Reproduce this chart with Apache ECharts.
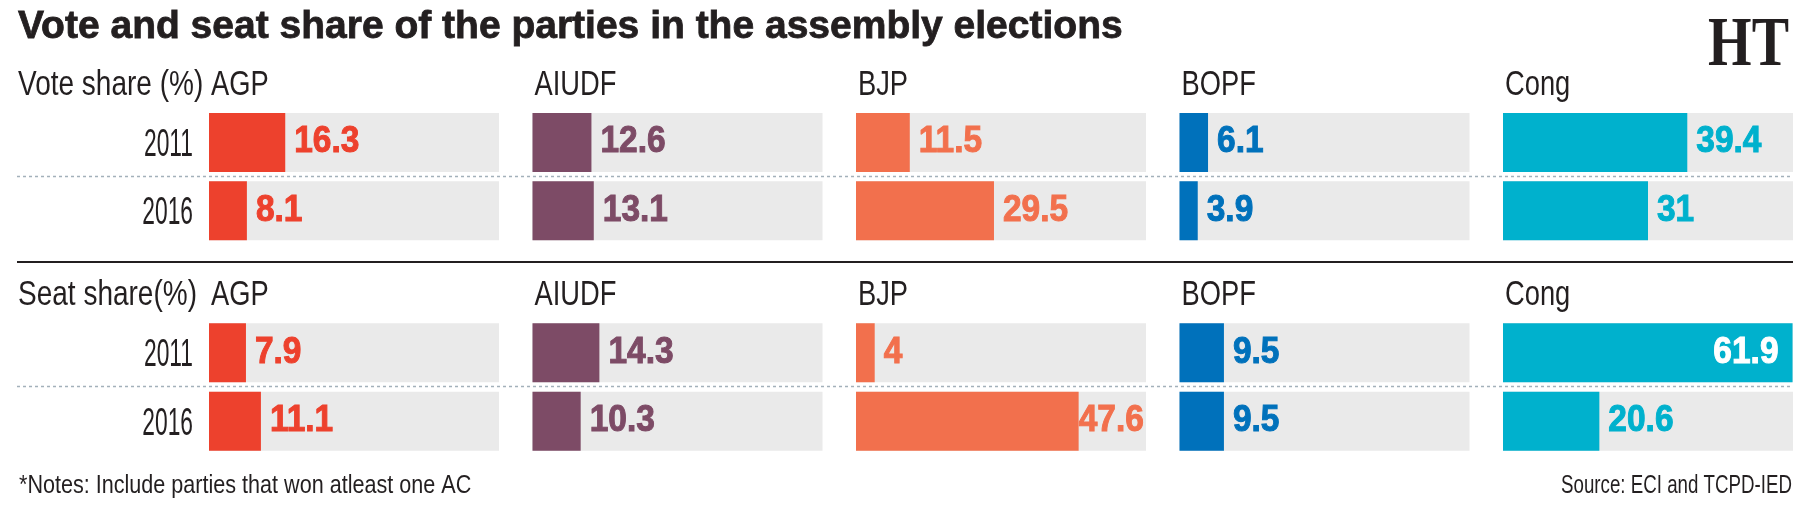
<!DOCTYPE html>
<html>
<head>
<meta charset="utf-8">
<script src="https://cdn.jsdelivr.net/npm/echarts@6/dist/echarts.min.js"></script>
<style>
  html, body { margin: 0; padding: 0; background: #fff; }
  #main { width: 1805px; height: 514px; }
</style>
</head>
<body>
<div id="main"></div>
<script>
// data
const parties = ["AGP", "AIUDF", "BJP", "BOPF", "Cong"];
const years = ["2011", "2016"];
const vote2011 = [16.3, 12.6, 11.5, 6.1, 39.4];
const vote2016 = [8.1, 13.1, 29.5, 3.9, 31];
const seat2011 = [7.9, 14.3, 4, 9.5, 61.9];
const seat2016 = [11.1, 10.3, 47.6, 9.5, 20.6];

const partyColors = ["#ED412D", "#7D4B66", "#F2704D", "#0071BB", "#00B1CD"];
const sans = "'Liberation Sans', Arial, sans-serif";
const ink = "#231F20";

const panelLeft = 209, panelStep = 323.5, panelWidth = 290;
const sections = [
  { top: 108.3, a: vote2011, b: vote2016 },
  { top: 318.7, a: seat2011, b: seat2016 }
];

var grid = [], xAxis = [], yAxis = [], series = [];
sections.forEach(function(sec, s) {
  parties.forEach(function(p, i) {
    var idx = s * parties.length + i;
    grid.push({
      left: panelLeft + i * panelStep,
      top: sec.top,
      width: panelWidth,
      height: 136.6
    });
    xAxis.push({ gridIndex: idx, type: "value", min: 0, max: 62, show: false });
    yAxis.push({
      gridIndex: idx,
      type: "category",
      inverse: true,
      data: years,
      axisLine: { show: false },
      axisTick: { show: false },
      splitLine: { show: false },
      axisLabel: { show: false }
    });
    series.push({
      name: p,
      type: "bar",
      xAxisIndex: idx,
      yAxisIndex: idx,
      data: [sec.a[i], sec.b[i]],
      barWidth: 59,
      itemStyle: { color: partyColors[i] },
      showBackground: true,
      backgroundStyle: { color: "#EAEAEA" },
      silent: true
    });
  });
});

// condensed looking text: the narrow face is missing, so squeeze a normal one
function txt(x, y, text, size, opts) {
  opts = opts || {};
  var fill = opts.fill || ink;
  return {
    type: "text",
    silent: true,
    z: 10,
    x: x,
    y: y,
    scaleX: opts.sx || 1,
    style: {
      x: 0,
      y: 0,
      text: text,
      fill: fill,
      stroke: opts.heavy ? fill : null,
      lineWidth: opts.heavy || 0,
      font: (opts.weight || "normal") + " " + size + "px " + (opts.family || sans),
      textAlign: opts.align || "left",
      textVerticalAlign: "middle"
    }
  };
}

var myChart = echarts.init(document.getElementById("main"));
myChart.setOption({
  animation: false,
  grid: grid,
  xAxis: xAxis,
  yAxis: yAxis,
  series: series
});

var graphic = [
  txt(18, 27, "Vote and seat share of the parties in the assembly elections", 39,
    { weight: "bold", heavy: 0.8 }),
  txt(1789, 47, "HT", 70, { weight: "bold", family: "'Liberation Serif', serif", align: "right", sx: 0.8 }),
  txt(18, 85, "Vote share (%)", 35, { sx: 0.8 }),
  txt(18, 295, "Seat share(%)", 35, { sx: 0.8 }),
  txt(19, 486, "*Notes: Include parties that won atleast one AC", 26, { sx: 0.83 }),
  txt(1792, 486, "Source: ECI and TCPD-IED", 26, { align: "right", sx: 0.72 }),
  {
    type: "line", silent: true, z: 5,
    shape: { x1: 17, y1: 262, x2: 1793, y2: 262 },
    style: { stroke: "#231F20", lineWidth: 2 }
  },
  {
    type: "line", silent: true, z: 5,
    shape: { x1: 17, y1: 176.5, x2: 1793, y2: 176.5 },
    style: { stroke: "#A3B1BA", lineWidth: 1.5, lineDash: [3, 3] }
  },
  {
    type: "line", silent: true, z: 5,
    shape: { x1: 17, y1: 386.5, x2: 1793, y2: 386.5 },
    style: { stroke: "#A3B1BA", lineWidth: 1.5, lineDash: [3, 3] }
  }
];

var headerY = [85, 295];
sections.forEach(function(sec, s) {
  parties.forEach(function(p, i) {
    var idx = s * parties.length + i;
    var x0 = myChart.convertToPixel({ gridIndex: idx }, [0, years[0]])[0];
    graphic.push(txt(x0 + 2, headerY[s], p, 35, { sx: 0.78 }));
    [sec.a[i], sec.b[i]].forEach(function(v, j) {
      var pt = myChart.convertToPixel({ gridIndex: idx }, [v, years[j]]);
      if (i === 0) {
        graphic.push(txt(x0 - 16, pt[1] + 3, years[j], 38, { align: "right", sx: 0.6 }));
      }
      var label = String(v);
      if (pt[0] > x0 + panelWidth - 20) {
        // full bar: label sits inside
        graphic.push(txt(pt[0] - 14, pt[1], label, 36,
          { weight: "bold", align: "right", fill: "#fff", sx: 0.93, heavy: 1 }));
      } else {
        var gap = v === 47.6 ? 0 : 9;
        graphic.push(txt(pt[0] + gap, pt[1], label, 36,
          { weight: "bold", fill: partyColors[i], sx: 0.93, heavy: 1 }));
      }
    });
  });
});

myChart.setOption({ graphic: graphic });
</script>
</body>
</html>
